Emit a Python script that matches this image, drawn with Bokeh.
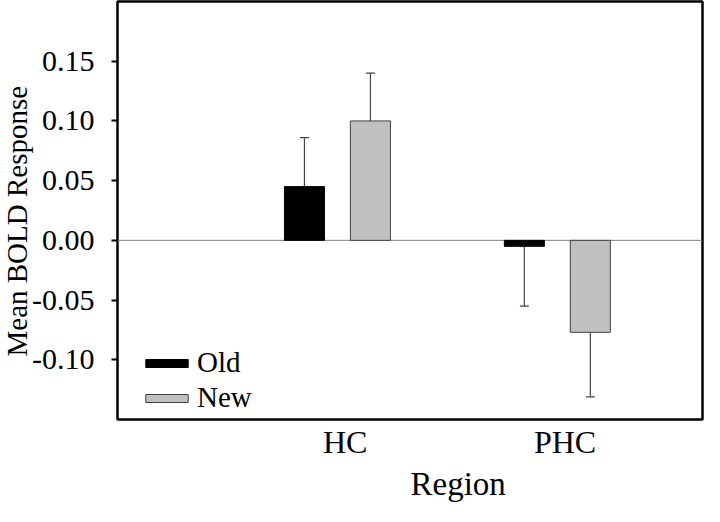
from bokeh.plotting import figure
from bokeh.models import Range1d, FixedTicker, NumeralTickFormatter, Span, Legend, LegendItem, Title
from bokeh.embed import file_html
from bokeh.resources import INLINE

# ---- data ----
regions = ["HC", "PHC"]
old_mean = [0.045, -0.005]
new_mean = [0.100, -0.077]
old_err = [0.041, 0.050]
new_err = [0.040, 0.054]
y_ticks = [-0.10, -0.05, 0.00, 0.05, 0.10, 0.15]

FONT = "Liberation Serif"
pos = [i + 1 for i in range(len(regions))]
OFF = 0.30
BW = 0.182
LABEL_SHIFT = 0.035  # category labels sit slightly right of the bar pairs

p = figure(width=704, height=506, output_backend="svg", toolbar_location=None,
           x_range=Range1d(0, 2.66), y_range=Range1d(-0.15, 0.20),
           min_border_left=117, min_border_right=2, min_border_top=1, min_border_bottom=87)

p.xgrid.visible = False
p.ygrid.visible = False
p.outline_line_color = "black"
p.outline_line_width = 2.5
p.outline_line_alpha = 1.0

zero = Span(location=0, dimension="width", line_color="#808080", line_width=1, level="underlay")
p.add_layout(zero)

def err_ends(means, errs):
    return [m + e if m >= 0 else m - e for m, e in zip(means, errs)]

x_old = [x - OFF / 2 for x in pos]
x_new = [x + OFF / 2 for x in pos]

# error bars
for xs, means, errs in ((x_old, old_mean, old_err), (x_new, new_mean, new_err)):
    ends = err_ends(means, errs)
    p.segment(x0=xs, y0=means, x1=xs, y1=ends, line_color="#454545", line_width=1.2)
    p.scatter(x=xs, y=ends, marker="dash", size=9, line_color="#454545", line_width=1.2)

r_old = p.vbar(x=x_old, top=old_mean, bottom=0, width=BW, fill_color="black", line_color="black", line_width=1)
r_new = p.vbar(x=x_new, top=new_mean, bottom=0, width=BW, fill_color="#c0c0c0", line_color="#404040", line_width=1)

leg_style = dict(margin=0, padding=2, glyph_width=53, glyph_height=10, label_height=28,
                 label_standoff=4, label_text_font=FONT, label_text_font_size="29px",
                 label_text_color="black", border_line_color=None, background_fill_alpha=0)
leg_old = Legend(items=[LegendItem(label="Old", renderers=[r_old])], location=(23, 40), **leg_style)
leg_new = Legend(items=[LegendItem(label="New", renderers=[r_new])], location=(23, 5), **leg_style)
p.add_layout(leg_old)
p.add_layout(leg_new)

# x axis
tick_pos = [round(x + LABEL_SHIFT, 3) for x in pos]
p.xaxis.ticker = FixedTicker(ticks=tick_pos)
p.xaxis.major_label_overrides = {t: r for t, r in zip(tick_pos, regions)}
p.xaxis.major_tick_line_color = None
p.xaxis.major_tick_out = 0
p.xaxis.major_tick_in = 0
p.xaxis.minor_tick_line_color = None
p.xaxis.axis_line_color = None
p.xaxis.major_label_text_font = FONT
p.xaxis.major_label_text_font_size = "32px"
p.xaxis.major_label_text_color = "black"
p.xaxis.major_label_standoff = 4

x_title = Title(text="Region", align="left", offset=293, standoff=2,
                text_font=FONT, text_font_size="33px", text_font_style="normal",
                text_color="black")
p.add_layout(x_title, "below")

# y axis
p.yaxis.ticker = FixedTicker(ticks=y_ticks)
p.yaxis.formatter = NumeralTickFormatter(format="0.00")
p.yaxis.minor_tick_line_color = None
p.yaxis.axis_line_color = None
p.yaxis.major_tick_line_color = "black"
p.yaxis.major_tick_line_width = 2
p.yaxis.major_tick_out = 6
p.yaxis.major_tick_in = 0
p.yaxis.major_label_text_font = FONT
p.yaxis.major_label_text_font_size = "30px"
p.yaxis.major_label_text_color = "black"
p.yaxis.major_label_standoff = 17

y_title = Title(text="Mean BOLD Response", align="left", offset=63, standoff=-6,
                text_font=FONT, text_font_size="29px", text_font_style="normal",
                text_color="black")
p.add_layout(y_title, "left")

open("out.html", "w").write(file_html(p, INLINE))
